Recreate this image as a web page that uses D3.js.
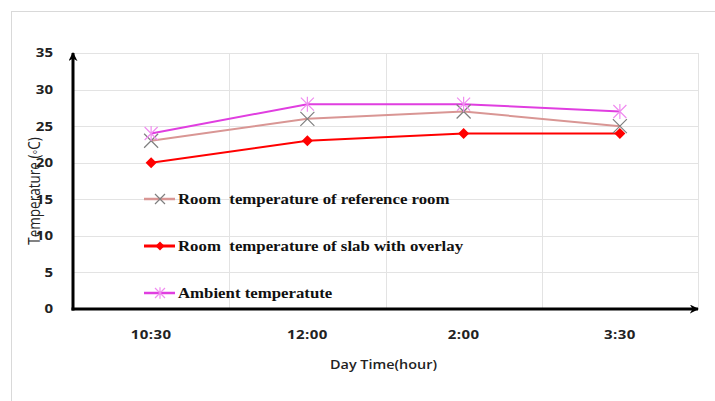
<!DOCTYPE html>
<html>
<head>
<meta charset="utf-8">
<script src="https://cdn.jsdelivr.net/npm/d3@7/dist/d3.min.js"></script>
<style>
  html, body { margin: 0; padding: 0; background: #fff; }
  svg { display: block; }
</style>
</head>
<body>
<svg id="chart" width="715" height="401"></svg>
<script>
// Day times of the readings
const categories = ["10:30", "12:00", "2:00", "3:30"];
// Temperatures in °C
const referenceRoom = [23, 26, 27, 25];
const slabOverlay = [20, 23, 24, 24];
const ambient = [24, 28, 28, 27];
const yTicks = [0, 5, 10, 15, 20, 25, 30, 35];

const seriesNames = [
  "Room  temperature of reference room",
  "Room  temperature of slab with overlay",
  "Ambient temperatute"
];

const svg = d3.select("#chart");
const margin = { left: 73, right: 17, top: 53, bottom: 92 };
const W = 715, H = 401;
const plotW = W - margin.left - margin.right;
const plotH = H - margin.top - margin.bottom;
const STRETCH = 1.2; // horizontal widening of all lettering

// outer frame
svg.append("rect")
  .attr("x", 11.5).attr("y", 11.5)
  .attr("width", 720).attr("height", 410)
  .attr("fill", "none").attr("stroke", "#d9d9d9").attr("stroke-width", 1);

const g = svg.append("g").attr("transform", `translate(${margin.left},${margin.top})`);

const x = d3.scaleBand().domain(categories).range([0, plotW]);
const y = d3.scaleLinear().domain([0, 35]).range([plotH, 0]);

// gridlines
g.append("g").selectAll("line").data(yTicks).join("line")
  .attr("x1", 0).attr("x2", plotW)
  .attr("y1", d => Math.round(y(d)) + 0.5).attr("y2", d => Math.round(y(d)) + 0.5)
  .attr("stroke", "#e3e3e3").attr("stroke-width", 1);
const bounds = categories.map(c => x(c)).concat([plotW]);
g.append("g").selectAll("line").data(bounds.slice(1)).join("line")
  .attr("x1", d => Math.round(d) + 0.5).attr("x2", d => Math.round(d) + 0.5)
  .attr("y1", 0).attr("y2", plotH)
  .attr("stroke", "#e3e3e3").attr("stroke-width", 1);

const tickFont = "'Open Sans', sans-serif";

// text placed at (px,py) and widened horizontally
function wideText(parent, px, py, str, opts) {
  const t = parent.append("g")
    .attr("transform", `translate(${px},${py}) scale(${STRETCH},1)`)
    .append("text")
    .attr("x", 0).attr("y", 0).attr("dy", "0.35em")
    .attr("text-anchor", opts.anchor || "start")
    .attr("font-family", opts.family || tickFont)
    .attr("font-weight", opts.weight || 700)
    .attr("font-size", opts.size || 12.5)
    .attr("fill", opts.fill || "#222")
    .style("white-space", "pre")
    .text(str);
  if (opts.spacing) t.attr("letter-spacing", opts.spacing);
  return t;
}

// y tick labels
yTicks.forEach(d => wideText(g, -20, y(d), String(d), { anchor: "end", size: 12.5 }));

// x tick labels
categories.forEach(c => wideText(g, x(c) + x.bandwidth() / 2, plotH + 26, c,
  { anchor: "middle", size: 12.5, spacing: 0.4 }));

// axis titles
wideText(svg, margin.left + plotW / 2 - 2, 365, "Day Time(hour)",
  { anchor: "middle", weight: 600, size: 12 });
svg.append("g")
  .attr("transform", `translate(34,191) scale(${STRETCH},1) rotate(-90)`)
  .append("text")
  .attr("dy", "0.35em").attr("text-anchor", "middle")
  .attr("font-family", tickFont).attr("font-weight", 400).attr("font-size", 13.5)
  .attr("fill", "#222")
  .text("Temperature (\u25E6C)");

// axes with arrowheads
const defs = svg.append("defs");
defs.append("marker")
  .attr("id", "arrow").attr("viewBox", "0 0 10 10")
  .attr("refX", 9).attr("refY", 5)
  .attr("markerWidth", 3.2).attr("markerHeight", 3)
  .attr("orient", "auto")
  .append("path").attr("d", "M0,0 L10,5 L0,10 L3,5 Z").attr("fill", "#000");
g.append("line")
  .attr("x1", 0).attr("y1", plotH + 1.5).attr("x2", 0).attr("y2", 0)
  .attr("stroke", "#000").attr("stroke-width", 3)
  .attr("marker-end", "url(#arrow)");
g.append("line")
  .attr("x1", -1.5).attr("y1", plotH).attr("x2", plotW).attr("y2", plotH)
  .attr("stroke", "#000").attr("stroke-width", 3)
  .attr("marker-end", "url(#arrow)");

// marker shapes
function crossPath(s) { return `M${-s},${-s}L${s},${s}M${-s},${s}L${s},${-s}`; }
function starPath(s) { return `M${-s},${-s}L${s},${s}M${-s},${s}L${s},${-s}M0,${-s * 1.15}L0,${s * 1.15}`; }
function diamondPath(s) { return `M0,${-s}L${s},0L0,${s}L${-s},0Z`; }

const series = [
  { name: seriesNames[0], values: referenceRoom, line: "#d99694", lw: 2,
    mark: s => crossPath(s), mSize: 7, mStroke: "#7f7f7f", mFill: "none", lgSize: 5 },
  { name: seriesNames[1], values: slabOverlay, line: "#ff0000", lw: 2,
    mark: s => diamondPath(s), mSize: 5.5, mStroke: "none", mFill: "#ff0000", lgSize: 4.5 },
  { name: seriesNames[2], values: ambient, line: "#e03ee0", lw: 2,
    mark: s => starPath(s), mSize: 6.5, mStroke: "#f08cf0", mFill: "none", lgSize: 5 }
];

const cx = c => x(c) + x.bandwidth() / 2;
const lineGen = d3.line().x((d, i) => cx(categories[i])).y(d => y(d));

series.forEach(s => {
  g.append("path").datum(s.values)
    .attr("d", lineGen).attr("fill", "none")
    .attr("stroke", s.line).attr("stroke-width", s.lw);
});
series.forEach(s => {
  g.append("g").selectAll("path").data(s.values).join("path")
    .attr("transform", (d, i) => `translate(${cx(categories[i])},${y(d)})`)
    .attr("d", s.mark(s.mSize))
    .attr("fill", s.mFill).attr("stroke", s.mStroke).attr("stroke-width", 1.2);
});

// legend inside plot area
const legendY = [199, 246, 293];
series.forEach((s, i) => {
  const lg = svg.append("g").attr("transform", `translate(144,${legendY[i]})`);
  lg.append("line").attr("x1", 0).attr("x2", 31).attr("y1", 0).attr("y2", 0)
    .attr("stroke", s.line).attr("stroke-width", i === 1 ? 3 : 2.5);
  lg.append("path").attr("transform", "translate(16,0)")
    .attr("d", s.mark(s.lgSize))
    .attr("fill", s.mFill).attr("stroke", s.mStroke).attr("stroke-width", 1.2);
  wideText(lg, 34, 0, s.name, {
    family: "'Liberation Serif', 'Times New Roman', serif",
    weight: 700, size: 14, fill: "#111"
  });
});
</script>
</body>
</html>
